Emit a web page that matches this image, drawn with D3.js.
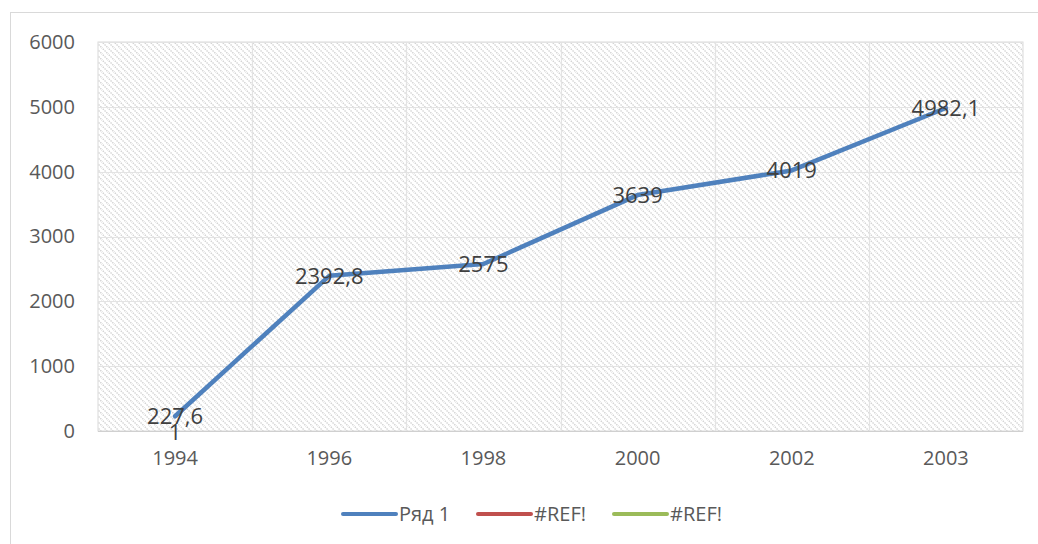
<!DOCTYPE html>
<html><head><meta charset="utf-8">
<script src="https://cdn.jsdelivr.net/npm/d3@7"></script>
<style>body{margin:0;background:#fff;} svg{display:block;font-family:"Open Sans","Noto Sans",sans-serif;}</style>
</head><body>
<script>
const categories = ["1994","1996","1998","2000","2002","2003"];
const values = [227.6, 2392.8, 2575, 3639, 4019, 4982.1];
const labels = ["227,6","2392,8","2575","3639","4019","4982,1"];
const yTicks = [0,1000,2000,3000,4000,5000,6000];
const legendItems = [{name:"Ряд 1",color:"#4f81bd"},{name:"#REF!",color:"#c0504d"},{name:"#REF!",color:"#9bbb59"}];

const W=1038,H=544;
const svg=d3.select("body").append("svg").attr("width",W).attr("height",H);
const defs=svg.append("defs");
const pat=defs.append("pattern").attr("id","hatch").attr("patternUnits","userSpaceOnUse").attr("width",6).attr("height",6);
pat.append("path").attr("d","M-1,-1 L7,7 M-4,2 L2,8 M2,-4 L8,2").attr("stroke","#d2d2d2").attr("stroke-width",1.4).attr("stroke-dasharray","1.5,1");

svg.append("rect").attr("x",10.5).attr("y",12.5).attr("width",W+10).attr("height",H+10).attr("fill","#fff").attr("stroke","#d9d9d9");

const m={l:98,r:1023,t:42,b:431};
const x=d3.scaleBand().domain(categories).range([m.l,m.r]);
const y=d3.scaleLinear().domain([0,6000]).range([m.b,m.t]);

svg.append("rect").attr("x",m.l).attr("y",m.t).attr("width",m.r-m.l).attr("height",m.b-m.t).attr("fill","url(#hatch)").attr("stroke","#d9d9d9");

const g=svg.append("g");
g.selectAll(".hg").data(yTicks).join("line").attr("x1",m.l).attr("x2",m.r).attr("y1",d=>Math.round(y(d))+0.5).attr("y2",d=>Math.round(y(d))+0.5).attr("stroke","#e3e3e3").attr("stroke-width",1.2);
g.selectAll(".vg").data(categories.slice(1)).join("line").attr("x1",d=>Math.round(x(d))+0.5).attr("x2",d=>Math.round(x(d))+0.5).attr("y1",m.t).attr("y2",m.b).attr("stroke","#e3e3e3").attr("stroke-width",1.2);

svg.append("line").attr("x1",m.l).attr("x2",m.r).attr("y1",m.b+0.5).attr("y2",m.b+0.5).attr("stroke","#d0d0d0").attr("stroke-width",1.2);

const yAxis=svg.append("g").attr("transform",`translate(${m.l-23},0)`).call(d3.axisLeft(y).tickValues(yTicks).tickFormat(d3.format("d")).tickSize(0).tickPadding(0));
yAxis.select(".domain").remove();
yAxis.selectAll("text").attr("font-size",20).attr("fill","#595959").attr("font-family","Open Sans, sans-serif").attr("text-anchor","end");

const xAxis=svg.append("g").attr("transform",`translate(0,${m.b})`).call(d3.axisBottom(x).tickSize(0).tickPadding(20));
xAxis.select(".domain").remove();
xAxis.selectAll("text").attr("font-size",20).attr("fill","#595959").attr("font-family","Open Sans, sans-serif");

const cx=d=>x(d)+x.bandwidth()/2;
const line=d3.line().x((d,i)=>cx(categories[i])).y(d=>y(d));
svg.append("path").datum(values).attr("d",line).attr("fill","none").attr("stroke","#4f81bd").attr("stroke-width",4.5).attr("stroke-linejoin","round").attr("stroke-linecap","round");

svg.selectAll(".lbl").data(values).join("text").attr("x",(d,i)=>cx(categories[i])).attr("y",d=>y(d)).attr("dy","0.35em").attr("text-anchor","middle").attr("font-size",22).attr("fill","#404040").text((d,i)=>labels[i]);
svg.append("text").attr("x",cx(categories[0])).attr("y",y(0)+1).attr("dy","0.35em").attr("text-anchor","middle").attr("font-size",22).attr("fill","#404040").text("1");

const lg=svg.append("g");
const lx=[343,478,614];
legendItems.forEach((it,i)=>{
  lg.append("line").attr("x1",lx[i]).attr("x2",lx[i]+53).attr("y1",514).attr("y2",514).attr("stroke",it.color).attr("stroke-width",4).attr("stroke-linecap","round");
  lg.append("text").attr("x",lx[i]+56).attr("y",514).attr("dy","0.35em").attr("font-size",20).attr("fill","#595959").text(it.name);
});
</script>
</body></html>
